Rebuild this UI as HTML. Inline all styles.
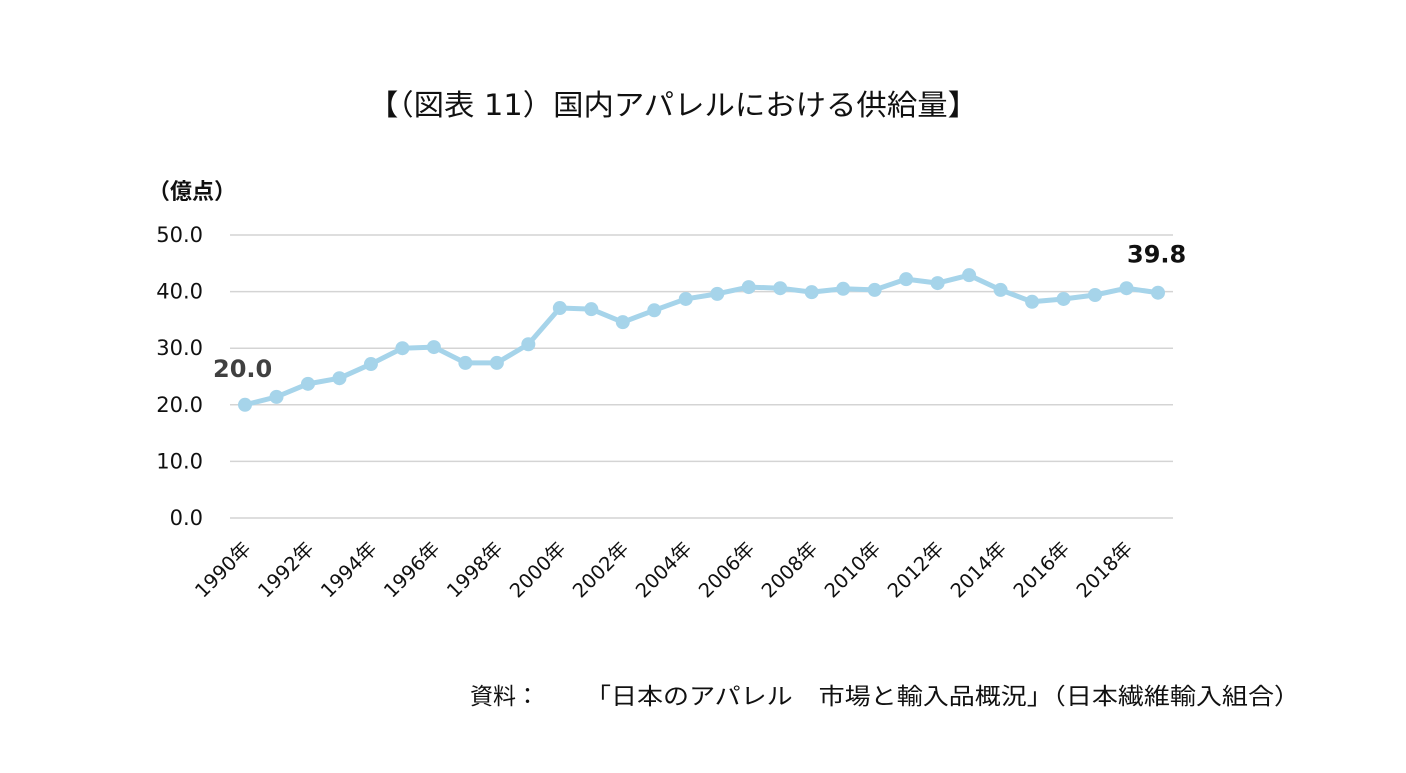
<!DOCTYPE html>
<html><head><meta charset="utf-8"><style>
body{margin:0;background:#fff;}
svg text{font-family:"DejaVu Sans","Noto Sans CJK JP",sans-serif;}
</style></head><body>
<svg width="1406" height="768" xmlns="http://www.w3.org/2000/svg">
<text x="368" y="115" font-size="29" fill="#111" textLength="610" lengthAdjust="spacingAndGlyphs">【（図表 11）国内アパレルにおける供給量】</text>
<text x="148" y="199" font-size="22" fill="#111" font-weight="bold">（億点）</text>
<g id="grid"></g><g id="ylab"></g><g id="xlab"></g><g id="series"></g>
<text x="470" y="704" font-size="23" fill="#111">資料：</text>
<text x="585" y="704" font-size="23" fill="#111" textLength="715" lengthAdjust="spacingAndGlyphs">「日本のアパレル　市場と輸入品概況」（日本繊維輸入組合）</text>
</svg>
<script>
const years=[1990,1991,1992,1993,1994,1995,1996,1997,1998,1999,2000,2001,2002,2003,2004,2005,2006,2007,2008,2009,2010,2011,2012,2013,2014,2015,2016,2017,2018,2019];
const values=[20.0,21.4,23.7,24.7,27.2,30.0,30.2,27.4,27.4,30.7,37.1,36.9,34.6,36.7,38.7,39.6,40.8,40.6,39.9,40.5,40.3,42.2,41.5,42.9,40.3,38.2,38.7,39.4,40.6,39.8];
const yTicks=[0,10,20,30,40,50];
const NS='http://www.w3.org/2000/svg';
const x=i=>245+i*(1158-245)/(years.length-1);
const y=v=>518-v*(518-235)/50;
function mk(t,a,p){const e=document.createElementNS(NS,t);for(const k in a)e.setAttribute(k,a[k]);p.appendChild(e);return e;}
const g=document.getElementById('grid'),yl=document.getElementById('ylab'),xl=document.getElementById('xlab'),s=document.getElementById('series');
yTicks.forEach(v=>{
 const l=mk('line',{x1:230,x2:1173,y1:y(v),y2:y(v),stroke:'#d4d4d4','stroke-width':1.5},g);
 
 
 const t=mk('text',{x:203,y:y(v)+7,'text-anchor':'end','font-size':21,fill:'#111'},yl);
 t.textContent=v.toFixed(1);
 
 
});
years.forEach((yr,i)=>{
 if(i%2)return;
 const t=mk('text',{x:x(i)+7,y:550,'text-anchor':'end','font-size':19.5,fill:'#111',transform:`rotate(-45 ${x(i)+7} 550)`},xl);
 t.textContent=yr+'年';
 
 
});
const pl=mk('polyline',{points:values.map((v,i)=>x(i)+','+y(v)).join(' '),fill:'none',stroke:'#a6d4ea','stroke-width':5,'stroke-linejoin':'round'},s);


values.forEach((v,i)=>{
 const c=mk('circle',{cx:x(i),cy:y(v),r:7,fill:'#a6d4ea'},s);
 
 
});
const n=values.length-1;
const a=mk('text',{x:x(0)-32,y:y(values[0])-28,'font-size':24,'font-weight':'bold',fill:'#404040'},s);
a.textContent=values[0].toFixed(1);


const b=mk('text',{x:x(n)-31,y:y(values[n])-30,'font-size':24,'font-weight':'bold',fill:'#111'},s);
b.textContent=values[n].toFixed(1);


</script>
</body></html>
